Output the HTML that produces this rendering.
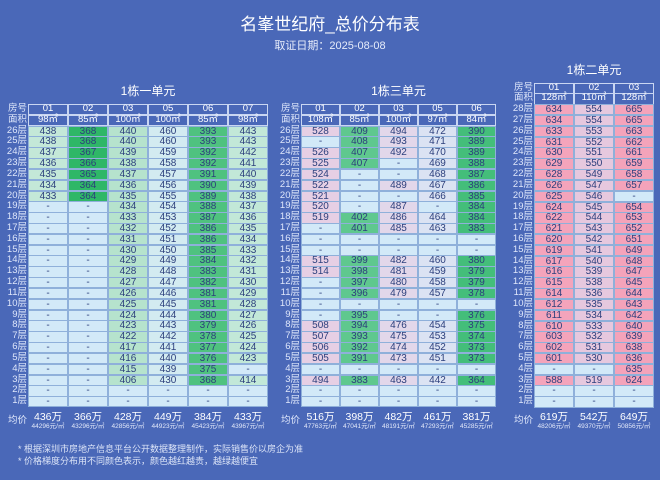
<!DOCTYPE html>
<html><head><meta charset="utf-8">
<style>
html,body{margin:0;padding:0}
body{width:660px;height:480px;background:#4a68b8;position:relative;overflow:hidden;font-family:"Liberation Sans","Noto Sans CJK SC",sans-serif}
.a{position:absolute;box-sizing:border-box;text-align:center;white-space:nowrap}
.t{color:#fff}
</style></head><body>
<div class="a t" style="left:0;width:660px;top:14px;font-size:17px;line-height:22px">名峯世纪府_总价分布表</div>
<div class="a t" style="left:0;width:660px;top:39px;font-size:11px;line-height:14px;color:#e6ecfa">取证日期：2025-08-08</div>
<div class="a" style="left:18px;top:443px;font-size:9px;line-height:12px;color:#dce4f7">* 根据深圳市房地产信息平台公开数据整理制作，实际销售价以房企为准</div>
<div class="a" style="left:18px;top:455px;font-size:9px;line-height:12px;color:#dce4f7">* 价格梯度分布用不同颜色表示，颜色越红越贵，越绿越便宜</div>
<div id="root"></div>
<script>
var R=10.82,D='-';
function add(h){document.getElementById('root').insertAdjacentHTML('beforeend',h);}
function tbl(o){
 var x0=o.x,cw=o.cw,n=o.cols.length,top=o.top,nf=o.data[0].length;
 add('<div class="a t" style="left:'+x0+'px;width:'+(cw*n)+'px;top:'+(top-20)+'px;font-size:12px;line-height:14px">'+o.title+'</div>');
 // labels
 var labs=['房号','面积'];for(var f=nf;f>=1;f--)labs.push(f+'层');
 for(var i=0;i<labs.length;i++){
  add('<div class="a" style="left:'+(x0-25)+'px;width:24px;top:'+(top+i*R)+'px;height:'+R+'px;font-size:9.5px;line-height:'+R+'px;color:#dfe7fb;text-align:right">'+labs[i]+'</div>');
 }
 add('<div class="a" style="left:'+(x0-25)+'px;width:24px;top:'+(top+R*(nf+2)+8)+'px;font-size:9.5px;line-height:12px;color:#dfe7fb;text-align:right">均价</div>');
 for(var c=0;c<n;c++){
  var x=x0+c*cw;
  add('<div class="a t" style="left:'+x+'px;width:'+cw+'px;top:'+top+'px;height:'+(R+0.5)+'px;border:1px solid #c9d6f2;font-size:9.5px;line-height:'+(R-2)+'px">'+o.cols[c]+'</div>');
  add('<div class="a t" style="left:'+x+'px;width:'+cw+'px;top:'+(top+R)+'px;height:'+(R+0.5)+'px;border:1px solid #c9d6f2;font-size:9.5px;line-height:'+(R-2)+'px">'+o.area[c]+'</div>');
  for(var r=0;r<nf;r++){
   var v=o.data[c][r],bg=v===D?'#d2e9f8':o.bg[c];
   add('<div class="a" style="left:'+x+'px;width:'+cw+'px;top:'+(top+(r+2)*R)+'px;height:'+(R+0.5)+'px;background:'+bg+';border:0.5px solid #8fb0da;font-size:10px;line-height:'+R+'px;color:#2c3f7c">'+v+'</div>');
  }
  var ay=top+R*(nf+2)+4;
  add('<div class="a t" style="left:'+x+'px;width:'+cw+'px;top:'+ay+'px;font-size:10.5px;line-height:12px">'+o.avg[c][0]+'万</div>');
  add('<div class="a t" style="left:'+(x-5)+'px;width:'+(cw+10)+'px;top:'+(ay+12)+'px;font-size:6.5px;line-height:8px;color:#e3e9fa">'+o.avg[c][1]+'元/㎡</div>');
 }
}
function rng(a,b){var r=[];for(var i=a;i>=b;i--)r.push(i);return r;}
function dash(k){var r=[];for(var i=0;i<k;i++)r.push(D);return r;}
tbl({x:28,cw:40,top:104,title:'1栋一单元',cols:['01','02','03','05','06','07'],area:['98㎡','85㎡','100㎡','100㎡','85㎡','98㎡'],
 bg:['#c4e8d8','#2fb767','#b6e3cd','#d3ebf1','#4fc27f','#c2e8d8'],
 data:[[438,438,437,436,435,434,433].concat(dash(19)),
 [368,368,367,366,365,364,364].concat(dash(19)),
 [440,440,439,438,437,436,435,434,433,432,431,430,429,428,427,426,425,424,423,422,417,416,415,406,D,D],
 [460,460,459,458,457,456,455,454,453,452,451,450,449,448,447,446,445,444,443,442,441,440,439,430,D,D],
 [393,393,392,392,391,390,389,388,387,386,386,385,384,383,382,381,381,380,379,378,377,376,375,368,D,D],
 [443,443,442,441,440,439,438,437,436,435,434,433,432,431,430,429,428,427,426,425,424,423,D,414,D,D]],
 avg:[[436,44296],[366,43296],[428,42856],[449,44923],[384,45423],[433,43967]]});
tbl({x:301,cw:39,top:104,title:'1栋三单元',cols:['01','02','03','05','06'],area:['108㎡','85㎡','100㎡','97㎡','84㎡'],
 bg:['#e6cfe4','#5fc88e','#e2d7ea','#dbe3f3','#44be7a'],
 data:[[528,D,526,525,524,522,521,520,519,D,D,D,515,514,D,D,D,D,508,507,506,505,D,494,D,D],
 [409,408,407,407,D,D,D,D,402,401,D,D,399,398,397,396,D,395,394,393,392,391,D,383,D,D],
 [494,493,492,D,D,489,D,487,486,485,D,D,482,481,480,479,D,D,476,475,474,473,D,463,D,D],
 [472,471,470,469,468,467,466,D,464,463,D,D,460,459,458,457,D,D,454,453,452,451,D,442,D,D],
 [390,389,389,388,387,386,385,384,384,383,D,D,380,379,379,378,D,376,375,374,373,373,D,364,D,D]],
 avg:[[516,47763],[398,47041],[482,48191],[461,47293],[381,45285]]});
tbl({x:534,cw:40,top:82.5,title:'1栋二单元',cols:['01','02','03'],area:['128㎡','110㎡','128㎡'],
 bg:['#f4a4bb','#e6c8de','#f4a3ba'],
 data:[[634,634,633,631,630,629,628,626,625,624,622,621,620,619,617,616,615,614,612,611,610,603,602,601,D,588,D,D],
 [554,554,553,552,551,550,549,547,546,545,544,543,542,541,540,539,538,536,535,534,533,532,531,530,D,519,D,D],
 [665,665,663,662,661,659,658,657,D,654,653,652,651,649,648,647,645,644,643,642,640,639,638,636,635,624,D,D]],
 avg:[[619,48206],[542,49370],[649,50856]]});
</script>
</body></html>
